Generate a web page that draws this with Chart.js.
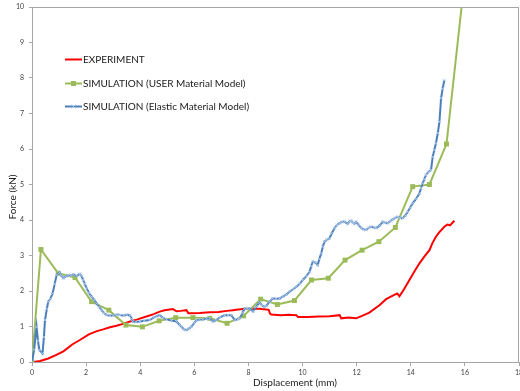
<!DOCTYPE html>
<html>
<head>
<meta charset="utf-8">
<script src="https://cdn.jsdelivr.net/npm/chart.js@4/dist/chart.umd.min.js"></script>
<style>
  html, body { margin: 0; padding: 0; background: #fff; }
  #wrap { width: 520px; height: 391px; position: relative; }
</style>
</head>
<body>
<div id="wrap"><canvas id="c" width="520" height="391"></canvas></div>
<script>
// Force vs displacement, measured and simulated
const seriesNames = ['EXPERIMENT', 'SIMULATION (USER Material Model)', 'SIMULATION (Elastic Material Model)'];
const xTitle = 'Displacement (mm)';
const yTitle = 'Force (kN)';

const experimentX = [0.05,0.3,0.6,0.9,1.16,1.5,1.77,2.1,2.4,2.63,2.88,3.12,3.4,3.62,3.9,4.23,4.5,4.72,4.9,5.09,5.21,5.34,5.5,5.71,5.78,5.83,6.2,6.57,6.9,7.2,7.43,7.55,7.8,8.1,8.41,8.66,8.75,8.8,8.84,9.2,9.5,9.77,9.83,10.2,10.6,11.0,11.37,11.43,11.7,11.98,12.2,12.47,12.84,13.09,13.39,13.5,13.58,13.75,13.95,14.15,14.32,14.5,14.69,14.8,14.93,15.05,15.24,15.35,15.45,15.61];
const experimentY = [0,0.03,0.1,0.2,0.3,0.5,0.62,0.78,0.87,0.92,0.98,1.02,1.08,1.14,1.2,1.28,1.35,1.42,1.46,1.48,1.49,1.43,1.44,1.46,1.37,1.37,1.38,1.4,1.41,1.44,1.46,1.47,1.49,1.5,1.5,1.48,1.47,1.36,1.34,1.32,1.33,1.32,1.27,1.27,1.28,1.29,1.32,1.23,1.25,1.23,1.3,1.39,1.6,1.77,1.89,1.93,1.85,2.05,2.31,2.57,2.78,2.97,3.15,3.35,3.53,3.65,3.81,3.87,3.85,3.98];

const userX = [0,0.33,0.97,1.59,2.2,2.84,3.47,4.08,4.7,5.31,5.95,6.57,7.21,7.82,8.45,9.07,9.7,10.33,10.95,11.57,12.2,12.82,13.43,14.07,14.69,15.32,15.95];
const userY = [0,3.17,2.5,2.38,1.7,1.46,1.04,0.99,1.16,1.25,1.25,1.23,1.09,1.3,1.77,1.62,1.73,2.31,2.36,2.87,3.15,3.39,3.79,4.94,5.0,6.14,10.5];

const elasticX = [0,0.08,0.17,0.22,0.27,0.39,0.44,0.48,0.55,0.6,0.68,0.76,0.84,0.91,1.01,1.08,1.16,1.25,1.34,1.43,1.52,1.65,1.77,1.83,1.89,1.95,2.02,2.1,2.2,2.3,2.39,2.48,2.57,2.66,2.76,2.88,3.0,3.1,3.18,3.25,3.4,3.5,3.62,3.68,3.72,3.85,3.99,4.15,4.35,4.5,4.6,4.72,4.85,4.97,5.15,5.34,5.45,5.52,5.62,5.71,5.8,5.89,6.0,6.08,6.2,6.32,6.45,6.57,6.69,6.81,6.95,7.12,7.25,7.37,7.49,7.6,7.68,7.78,7.86,7.95,8.04,8.17,8.29,8.41,8.5,8.58,8.66,8.78,8.9,9.02,9.15,9.27,9.4,9.52,9.65,9.77,9.9,10.01,10.14,10.26,10.32,10.38,10.47,10.56,10.62,10.69,10.75,10.81,10.9,10.99,11.08,11.18,11.27,11.37,11.46,11.55,11.67,11.74,11.8,11.86,11.92,11.98,12.07,12.17,12.26,12.35,12.45,12.53,12.65,12.72,12.85,12.96,13.05,13.15,13.25,13.33,13.43,13.52,13.6,13.7,13.8,13.89,13.98,14.07,14.2,14.32,14.38,14.44,14.5,14.56,14.65,14.75,14.81,14.87,14.93,15.0,15.06,15.12,15.18,15.24];
const elasticY = [0,0.35,0.99,0.6,0.34,0.24,0.7,1.18,1.5,1.7,1.78,1.93,2.2,2.45,2.52,2.44,2.36,2.41,2.45,2.44,2.47,2.42,2.48,2.42,2.31,2.2,2.08,1.95,1.84,1.75,1.65,1.55,1.46,1.38,1.32,1.31,1.3,1.33,1.34,1.32,1.31,1.33,1.32,1.22,1.14,1.13,1.14,1.16,1.18,1.25,1.29,1.32,1.24,1.2,1.17,1.14,1.05,0.99,0.92,0.9,0.94,0.99,1.1,1.18,1.19,1.2,1.22,1.23,1.14,1.18,1.26,1.32,1.32,1.32,1.18,1.2,1.23,1.38,1.51,1.5,1.51,1.42,1.56,1.68,1.6,1.55,1.58,1.7,1.79,1.78,1.79,1.84,1.9,1.98,2.05,2.12,2.2,2.31,2.42,2.54,2.7,2.83,2.8,2.73,2.9,3.06,3.25,3.39,3.44,3.48,3.62,3.77,3.86,3.91,3.95,3.95,3.89,3.96,3.98,3.92,3.89,3.95,3.86,3.77,3.74,3.72,3.78,3.81,3.79,3.77,3.84,3.95,3.92,3.91,3.97,4.02,4.06,4.09,4.06,4.05,4.13,4.23,4.35,4.47,4.6,4.75,4.9,5.03,5.15,5.27,5.35,5.41,5.78,5.97,6.16,6.45,6.77,7.43,7.7,7.94];

const xTicks = [0,2,4,6,8,10,12,14,16,18];
const yTicks = [0,1,2,3,4,5,6,7,8,9,10];

const pts = (xs, ys) => xs.map((x, i) => ({ x: x, y: ys[i] }));

const RED = '#ff0000', GREEN = '#9bbb59', BLUE = '#4a7ebb', BLUE_MARK = '#b7cfee';
const AXIS = '#a6a6a6';
const TEXT_FONT = '10px Lato, "Open Sans", sans-serif';

// small line-with-marker swatches for the legend
function swatch(color, marker) {
  const cv = document.createElement('canvas');
  cv.width = 17; cv.height = 7;
  const g = cv.getContext('2d');
  g.strokeStyle = color; g.lineWidth = 2;
  g.beginPath(); g.moveTo(0, 3.5); g.lineTo(17, 3.5); g.stroke();
  if (marker === 'square') {
    g.fillStyle = GREEN; g.fillRect(6, 1, 5, 5);
  } else if (marker === 'star') {
    g.strokeStyle = BLUE_MARK; g.lineWidth = 1;
    g.beginPath();
    g.moveTo(6.5, 1.5); g.lineTo(10.5, 5.5); g.moveTo(10.5, 1.5); g.lineTo(6.5, 5.5);
    g.stroke();
  }
  return cv;
}
const swatches = [swatch(RED, null), swatch(GREEN, 'square'), swatch(BLUE, 'star')];

const legendPlugin = {
  id: 'boxLegend',
  afterDraw(chart) {
    const ctx = chart.ctx;
    const rows = [59, 83, 106];
    ctx.save();
    ctx.font = TEXT_FONT;
    ctx.fillStyle = '#1a1a1a';
    ctx.textBaseline = 'middle';
    seriesNames.forEach((name, i) => {
      ctx.drawImage(swatches[i], 65, Math.round(rows[i] - 3.5));
      ctx.fillText(name, 83, rows[i] + 0.5);
    });
    ctx.restore();
  }
};

// plot frame (top and right edges) and the two axis titles
const frame = {
  id: 'frame',
  afterDatasetsDraw(chart) {
    const a = chart.chartArea, ctx = chart.ctx;
    ctx.save();
    ctx.strokeStyle = AXIS; ctx.lineWidth = 1;
    ctx.beginPath();
    ctx.moveTo(a.left, a.top + 0.5); ctx.lineTo(a.right, a.top + 0.5);
    ctx.moveTo(a.right - 0.5, a.top); ctx.lineTo(a.right - 0.5, a.bottom);
    ctx.stroke();
    ctx.restore();
  },
  afterDraw(chart) {
    const ctx = chart.ctx;
    ctx.save();
    ctx.font = TEXT_FONT;
    ctx.fillStyle = '#1a1a1a';
    ctx.textAlign = 'center';
    ctx.textBaseline = 'middle';
    ctx.fillText(xTitle, 295, 383);
    ctx.translate(13, 197);
    ctx.rotate(-Math.PI / 2);
    ctx.fillText(yTitle, 0, 0);
    ctx.restore();
  }
};

new Chart(document.getElementById('c'), {
  type: 'line',
  data: {
    datasets: [
      { label: seriesNames[0], data: pts(experimentX, experimentY), borderColor: RED, borderWidth: 2,
        pointRadius: 0, tension: 0, order: 3 },
      { label: seriesNames[1], data: pts(userX, userY), borderColor: GREEN, borderWidth: 2,
        pointStyle: 'rect', pointRadius: 3.5, pointBackgroundColor: GREEN, pointBorderColor: GREEN,
        pointBorderWidth: 0, tension: 0, order: 2 },
      { label: seriesNames[2], data: pts(elasticX, elasticY), borderColor: BLUE, borderWidth: 2,
        pointStyle: 'crossRot', pointRadius: 2.2, pointBorderColor: BLUE_MARK, pointBorderWidth: 0.8,
        pointBackgroundColor: BLUE_MARK, tension: 0, order: 1 }
    ]
  },
  options: {
    responsive: false,
    animation: false,
    layout: { autoPadding: false, padding: { top: 7, right: 1, left: 0, bottom: 0 } },
    plugins: { legend: { display: false }, tooltip: { enabled: false } },
    scales: {
      x: {
        type: 'linear', min: 0, max: 18,
        afterBuildTicks: s => { s.ticks = xTicks.map(v => ({ value: v })); },
        afterFit: s => { s.height = 29; s.paddingLeft = 0; s.paddingRight = 0; },
        border: { color: AXIS, width: 1 },
        grid: { drawOnChartArea: false, drawTicks: true, tickLength: 4, color: AXIS },
        ticks: { color: '#404040', font: { size: 7, family: 'Lato, sans-serif' }, padding: 3, maxRotation: 0, autoSkip: false }
      },
      y: {
        type: 'linear', min: 0, max: 10,
        afterBuildTicks: s => { s.ticks = yTicks.map(v => ({ value: v })); },
        afterFit: s => { s.width = 32; s.paddingTop = 0; s.paddingBottom = 0; },
        border: { color: AXIS, width: 1 },
        grid: { drawOnChartArea: false, drawTicks: true, tickLength: 3, color: AXIS },
        ticks: { color: '#404040', font: { size: 7, family: 'Lato, sans-serif' }, padding: 5 }
      }
    }
  },
  plugins: [frame, legendPlugin]
});
</script>
</body>
</html>
